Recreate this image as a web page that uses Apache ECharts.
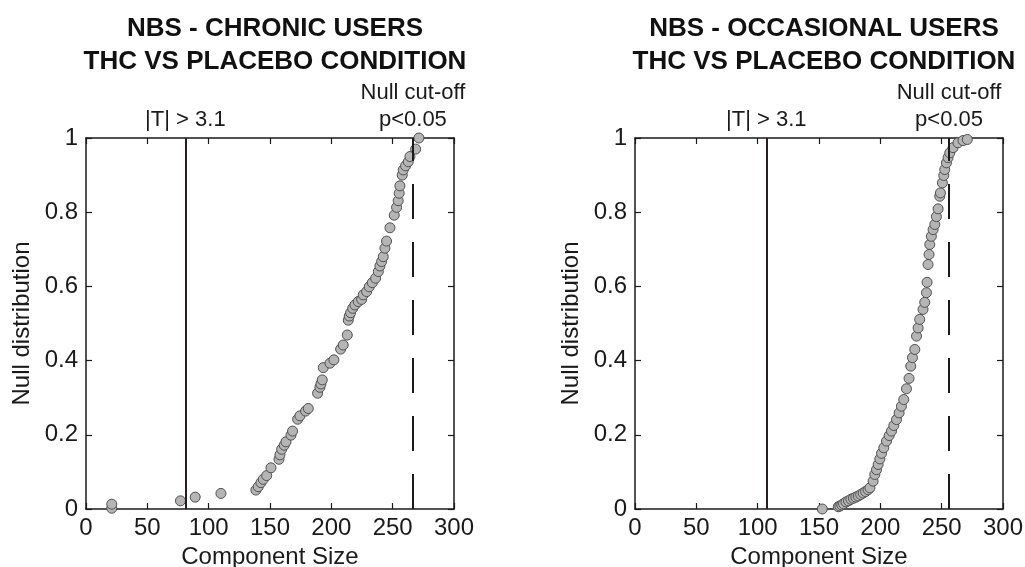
<!DOCTYPE html>
<html>
<head>
<meta charset="utf-8">
<script src="https://cdn.jsdelivr.net/npm/echarts@6/dist/echarts.min.js"></script>
<style>
  html, body { margin: 0; padding: 0; background: #fff; }
  #main { width: 1025px; height: 567px; }
</style>
</head>
<body>
<div id="main"></div>
<script>
// component size vs. null distribution
var chronicPoints = [
  [21, 0.002], [21, 0.013], [77, 0.022], [89, 0.032], [110, 0.042],
  [138.5, 0.051], [140.4, 0.060], [142.6, 0.071], [144.5, 0.080], [147.3, 0.090],
  [150.8, 0.111], [157.3, 0.134], [158.1, 0.146], [159.5, 0.161], [161.6, 0.172],
  [163, 0.181], [167.1, 0.199], [168.4, 0.210], [172.5, 0.242], [174.4, 0.251],
  [179, 0.264], [181.2, 0.271], [188.8, 0.312], [190.7, 0.328], [191.5, 0.337],
  [192.6, 0.348], [193.4, 0.381], [198.9, 0.393], [202.1, 0.402], [207.6, 0.431],
  [209.7, 0.442], [213, 0.469], [213.8, 0.509], [214.6, 0.520], [215.7, 0.529],
  [217.4, 0.541], [219.2, 0.550], [221.9, 0.559], [224.7, 0.565], [226, 0.577],
  [228.8, 0.586], [230.9, 0.599], [233.4, 0.610], [236.1, 0.622], [238.3, 0.640],
  [239.6, 0.655], [241, 0.667], [242.3, 0.680], [243.7, 0.703], [245, 0.722],
  [247.8, 0.758], [251.3, 0.792], [253.2, 0.813], [254.5, 0.831], [255.3, 0.851],
  [255.9, 0.871], [257.8, 0.900], [258.6, 0.914], [260.5, 0.925], [262.7, 0.936],
  [264.1, 0.950], [268.7, 0.970], [271.4, 1.0]
];
var occasionalPoints = [
  [152.7, 0.000], [165.7, 0.006], [167, 0.008], [168.5, 0.011], [170, 0.014],
  [172, 0.019], [174, 0.022], [176, 0.026], [178, 0.029], [180, 0.032],
  [182, 0.035], [184, 0.039], [186, 0.043], [188, 0.047], [190, 0.052],
  [191.5, 0.057], [194.1, 0.075], [195.5, 0.093], [196.9, 0.106], [198.2, 0.120],
  [199.6, 0.135], [201, 0.150], [202.8, 0.165], [205, 0.183], [207.2, 0.198],
  [209.1, 0.210], [211, 0.225], [213.2, 0.241], [215.3, 0.259], [217.2, 0.277],
  [219.1, 0.295], [221.3, 0.324], [223.4, 0.352], [224.8, 0.385], [226.2, 0.408],
  [228.1, 0.430], [229.5, 0.466], [230.8, 0.488], [232.1, 0.511], [234.8, 0.538],
  [236.2, 0.557], [237.6, 0.583], [238.1, 0.611], [238.9, 0.659], [239.7, 0.686],
  [240.3, 0.713], [241.6, 0.735], [243, 0.753], [244.4, 0.767], [245.7, 0.788],
  [247.1, 0.809], [248.4, 0.843], [249, 0.852], [250.6, 0.879], [251.7, 0.899],
  [252.5, 0.915], [253.9, 0.933], [255.2, 0.947], [256.6, 0.960], [259.3, 0.974],
  [263.3, 0.987], [267.4, 0.993], [270.9, 0.996]
];
var chronicThreshold = 81;      // |T| > 3.1 line
var chronicCutoff = 266.5;      // null cut-off p<0.05
var occasionalThreshold = 107;
var occasionalCutoff = 256;

var titles = ['NBS - CHRONIC USERS\nTHC VS PLACEBO CONDITION', 'NBS - OCCASIONAL USERS\nTHC VS PLACEBO CONDITION'];

var font = 'Liberation Sans, Arial, sans-serif';
var ink = '#1a1a1a';

function xAxisFor(grid, pos) {
  return {
    gridIndex: grid, type: 'value', position: pos, min: 0, max: 300, interval: 50,
    name: pos === 'bottom' ? 'Component Size' : '',
    nameLocation: 'middle', nameGap: 35,
    nameTextStyle: { fontFamily: font, fontSize: 24, color: ink },
    axisLine: { show: true, onZero: false, lineStyle: { color: ink, width: 1.5 } },
    axisTick: { show: true, inside: true, length: 6, lineStyle: { color: ink, width: 1.2 } },
    axisLabel: { show: pos === 'bottom', margin: 7, fontFamily: font, fontSize: 24, color: ink },
    splitLine: { show: false }
  };
}
function yAxisFor(grid, pos) {
  return {
    gridIndex: grid, type: 'value', position: pos, min: 0, max: 1, interval: 0.2,
    name: pos === 'left' ? 'Null distribution' : '',
    nameLocation: 'middle', nameGap: 52,
    nameTextStyle: { fontFamily: font, fontSize: 24, color: ink },
    axisLine: { show: true, onZero: false, lineStyle: { color: ink, width: 1.5 } },
    axisTick: { show: true, inside: true, length: 6, lineStyle: { color: ink, width: 1.2 } },
    axisLabel: { show: pos === 'left', margin: 8, fontFamily: font, fontSize: 24, color: ink },
    splitLine: { show: false }
  };
}

function refLines(threshold, cutoff) {
  return {
    silent: true, symbol: 'none', animation: false,
    label: { show: true, position: 'end', distance: 5, fontFamily: font, fontSize: 22, color: ink, lineHeight: 27 },
    data: [
      { xAxis: threshold, lineStyle: { type: 'solid', color: '#2a1d1d', width: 2 },
        label: { formatter: '|T| > 3.1' } },
      { xAxis: cutoff, lineStyle: { type: [35, 23], color: ink, width: 2 },
        label: { formatter: 'Null cut-off\np<0.05' } }
    ]
  };
}

function scatterFor(i, pts, threshold, cutoff) {
  return {
    type: 'scatter', xAxisIndex: i * 2, yAxisIndex: i * 2, data: pts,
    symbol: 'circle', symbolSize: 10, clip: false, z: 3,
    itemStyle: { color: '#b5b5b5', borderColor: '#505050', borderWidth: 1, opacity: 1 },
    markLine: refLines(threshold, cutoff)
  };
}

var chart = echarts.init(document.getElementById('main'));
chart.setOption({
  animation: false,
  backgroundColor: '#fff',
  title: [
    { text: titles[0], left: 270, top: 7, textAlign: 'center',
      textStyle: { fontFamily: font, fontSize: 26, fontWeight: 'bold', color: '#111', lineHeight: 33 } },
    { text: titles[1], left: 819, top: 7, textAlign: 'center',
      textStyle: { fontFamily: font, fontSize: 26, fontWeight: 'bold', color: '#111', lineHeight: 33 } }
  ],
  grid: [
    { left: 86, right: 571, top: 138, bottom: 58, outerBoundsMode: 'none' },
    { left: 635, right: 22, top: 138, bottom: 58, outerBoundsMode: 'none' }
  ],
  xAxis: [xAxisFor(0, 'bottom'), xAxisFor(0, 'top'), xAxisFor(1, 'bottom'), xAxisFor(1, 'top')],
  yAxis: [yAxisFor(0, 'left'), yAxisFor(0, 'right'), yAxisFor(1, 'left'), yAxisFor(1, 'right')],
  series: [
    scatterFor(0, chronicPoints, chronicThreshold, chronicCutoff),
    scatterFor(1, occasionalPoints, occasionalThreshold, occasionalCutoff)
  ]
});
</script>
</body>
</html>
